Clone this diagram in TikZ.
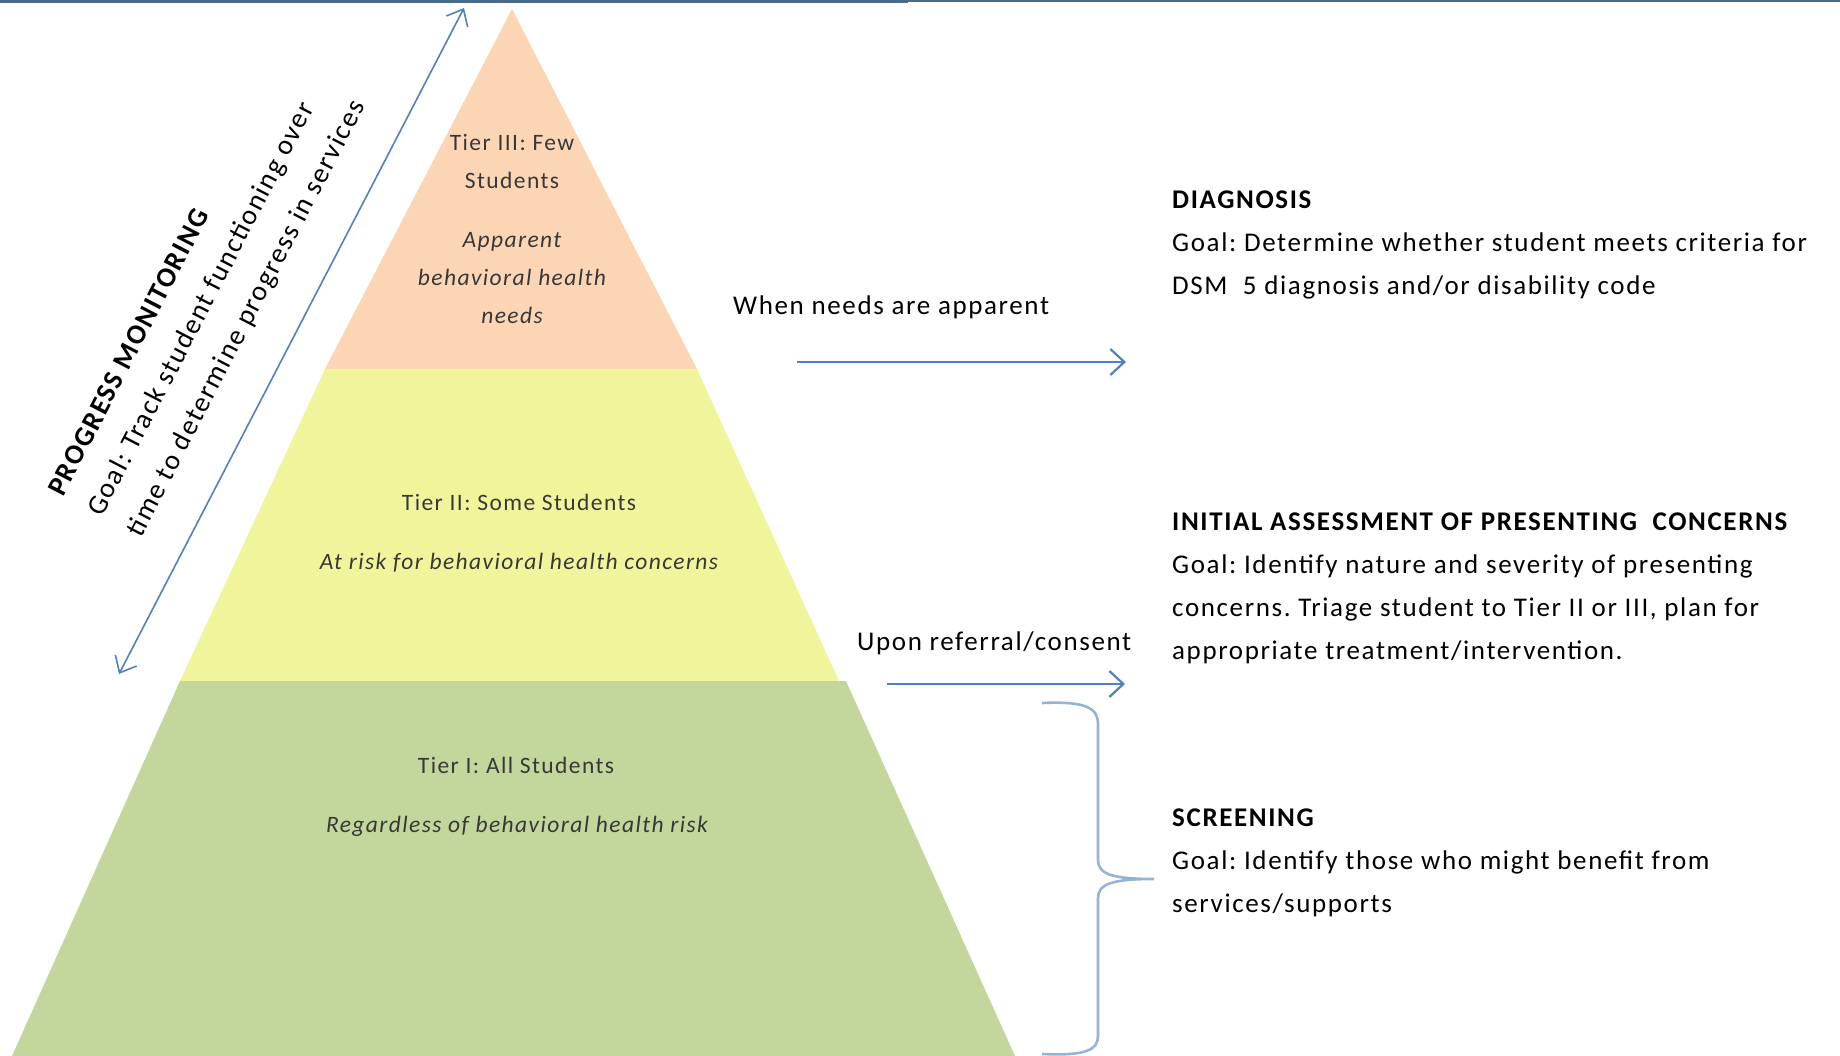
\documentclass[tikz,border=0pt]{standalone}
\usepackage{fontspec}
\setmainfont{Carlito}[LetterSpace=6]
\usepackage{xcolor}
\usepackage{tikz}
\usetikzlibrary{arrows.meta, calc}
\definecolor{barblue}{HTML}{4A6B85}
\definecolor{arrowblue}{HTML}{4F81BD}
\definecolor{braceblue}{HTML}{95B3D7}
\definecolor{tierthree}{HTML}{FCD5B5}
\definecolor{tiertwo}{HTML}{F0F59C}
\definecolor{tierone}{HTML}{C3D69B}
\frenchspacing

\begin{document}
\begin{tikzpicture}[x=1pt, y=-1pt,
	tierlabel/.style={text=black!78, font=\fontsize{23.5}{38}\selectfont, align=center, inner sep=0pt},
	tiernote/.style={tierlabel, font=\fontsize{23.5}{38}\selectfont\itshape},
	steplabel/.style={font=\fontsize{27}{43}\selectfont, align=left, anchor=north west, inner sep=0pt},
	arrowlabel/.style={font=\fontsize{27}{32}\selectfont, anchor=west, inner sep=0pt},
	flowarrow/.style={arrowblue, line width=2.2pt, -{Straight Barb[length=14pt, width=26pt]}}]
	\useasboundingbox (0,0) rectangle (1840,1056);
	\fill[barblue] (0,0) rectangle (908,3);
	\fill[barblue] (908,0) rectangle (1840,2);
	
	\fill[tierthree] (512,9) -- (697,369) -- (325,369) -- cycle;
	\fill[tiertwo] (325,369) -- (697,369) -- (839,681) -- (180,681) -- cycle;
	\fill[tierone] (180,681) -- (846,681) -- (1015,1056) -- (12,1056) -- cycle;
	
	\node[tierlabel] (t3head) at (512,162) {Tier III: Few\\Students};
	\node[tiernote] (t3note) at (512,278) {Apparent\\behavioral health\\needs};
	\node[tierlabel] (t2head) at (519,502) {Tier II: Some Students};
	\node[tiernote] (t2note) at (519,563) {At risk for behavioral health concerns};
	\node[tierlabel] (t1head) at (516,765) {Tier I: All Students};
	\node[tiernote] (t1note) at (517,826) {Regardless of behavioral health risk};
	
	\node[rotate=62.6, anchor=west, align=left, inner sep=0pt, font=\fontsize{28}{44}\selectfont] (pm) at (96,515) {\textbf{PROGRESS MONITORING}\\Goal: Track student functioning over\\time to determine progress in services};
	\coordinate (pmlow) at (119,674);
	\coordinate (pmhigh) at (464,8);
	\draw[arrowblue, line width=1.6pt, {Straight Barb[length=14pt, width=24pt]}-{Straight Barb[length=14pt, width=24pt]}] (pmlow) -- (pmhigh);
	
	\node[steplabel] (diag) at (1172,191) {\textbf{DIAGNOSIS}\\Goal: Determine whether student meets criteria for\\DSM\ \ 5 diagnosis and/or disability code};
	\node[steplabel] (assess) at (1172,513) {\textbf{INITIAL ASSESSMENT OF PRESENTING\ \ CONCERNS}\\Goal: Identify nature and severity of presenting\\concerns. Triage student to Tier II or III, plan for\\appropriate treatment/intervention.};
	\node[steplabel] (screen) at (1172,809) {\textbf{SCREENING}\\Goal: Identify those who might benefit from\\services/supports};
	
	\node[arrowlabel] (needs) at (733,307) {When needs are apparent};
	\coordinate (needsfrom) at (797,362);
	\coordinate (needsto) at (1126,362);
	\draw[flowarrow] (needsfrom) -- (needsto);
	
	\node[arrowlabel] (referral) at (857,643) {Upon referral/consent};
	\coordinate (referralfrom) at (887,684);
	\coordinate (referralto) at (1125,684);
	\draw[flowarrow] (referralfrom) -- (referralto);
	
	\draw[braceblue, line width=2.6pt] (1042,703) .. controls (1086,701) and (1098,708) .. (1098,724) -- (1098,860) .. controls (1098,874) and (1112,879) .. (1154,879) .. controls (1112,879) and (1098,884) .. (1098,898) -- (1098,1036) .. controls (1098,1050) and (1086,1056) .. (1042,1054);
\end{tikzpicture}
\end{document}
